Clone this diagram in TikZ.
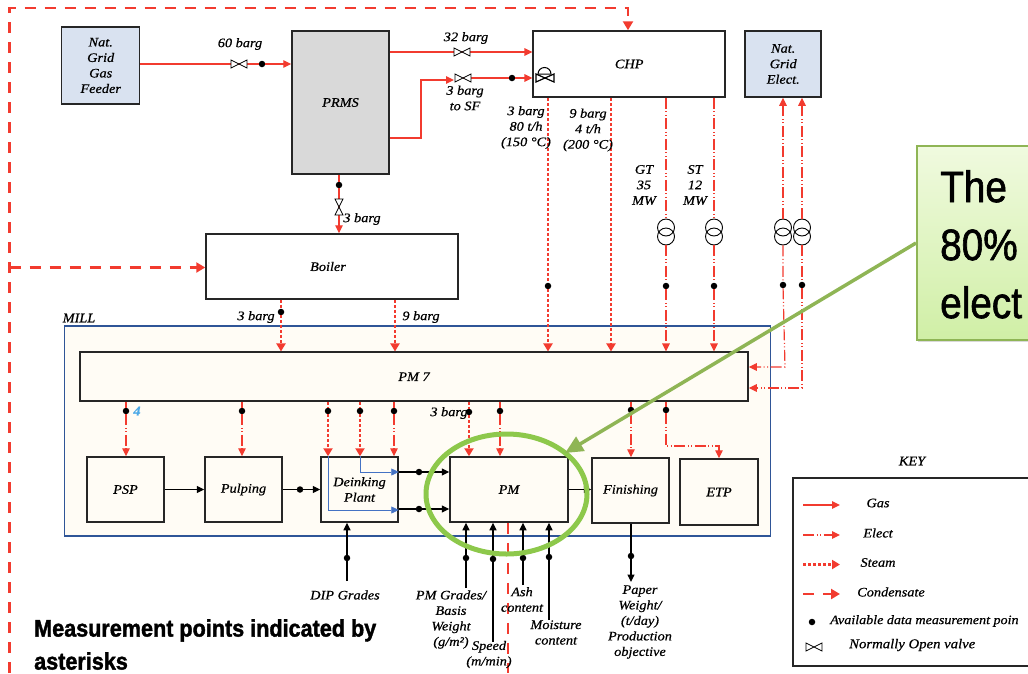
\documentclass[tikz,border=0pt]{standalone}
\usepackage{fontspec}
\setmainfont[FakeStretch=1.1,FakeBold=0.6]{Liberation Serif}
\newfontfamily\calloutfont[FakeStretch=0.88,FakeBold=1.4]{Liberation Sans}
\newfontfamily\notefont[FakeStretch=0.9,BoldFeatures={FakeBold=1.6}]{Liberation Sans}
\usetikzlibrary{arrows.meta, shapes.geometric, shadows}
\definecolor{linered}{HTML}{F23B2F}
\definecolor{gridblue}{HTML}{D9E2F0}
\definecolor{millcream}{HTML}{FFFCF5}
\definecolor{millblue}{HTML}{2F5597}
\definecolor{leafgreen}{HTML}{8DC84B}
\definecolor{pointgreen}{HTML}{8FB555}
\definecolor{palegreen}{HTML}{F0FADF}
\definecolor{softgreen}{HTML}{D0EFA6}
\definecolor{fourblue}{HTML}{4BA9E8}
\definecolor{flowblue}{HTML}{4472C4}
\newcommand{\labelfont}{\fontsize{13}{15.5}\selectfont\itshape}

\begin{document}
\begin{tikzpicture}[
    x=1pt, y=-1pt,
    % Estilos de nodos
    unit box/.style={rectangle, draw=black!85, line width=1.5pt, inner sep=0pt, align=center, font=\labelfont},
    feed box/.style={unit box, fill=gridblue},
    mill box/.style={unit box, fill=millcream},
    meas point/.style={circle, fill=black, inner sep=0pt, minimum size=6.5pt},
    coil/.style={circle, draw=black, line width=0.9pt, fill=none, inner sep=0pt, minimum size=17pt},
    flow label/.style={font=\labelfont, align=center, inner sep=0pt},
    % Estilos de aristas
    gas edge/.style={linered, line width=1.3pt, -{Triangle[length=8pt, width=7.5pt]}},
    elect edge/.style={linered, line width=1.2pt, dash pattern=on 11pt off 2.5pt on 1pt off 2.5pt on 1pt off 2.5pt, -{Triangle[length=8pt, width=7.5pt]}},
    elect plain/.style={linered, line width=1.2pt, dash pattern=on 11pt off 2.5pt on 1pt off 2.5pt on 1pt off 2.5pt},
    steam edge/.style={linered, line width=2.7pt, dash pattern=on 3pt off 2pt, -{Triangle[length=8pt, width=9pt]}},
    cond edge/.style={linered, line width=2.3pt, dash pattern=on 11pt off 9pt, -{Triangle[length=9pt, width=10pt]}},
    cond plain/.style={linered, line width=2.3pt, dash pattern=on 11pt off 9pt},
    black edge/.style={black, line width=1.1pt, -{Triangle[length=7.5pt, width=7pt]}},
    blue edge/.style={flowblue, line width=0.7pt, -{Triangle[length=7.5pt, width=7pt]}},
    % Simbolos
    valve/.pic={\draw[black, line width=0.8pt, fill=white] (-8,-4) -- (8,4) -- (8,-4) -- (-8,4) -- cycle;},
    control valve/.pic={
        \draw[black, line width=1.2pt, fill=white] (-9,-4) -- (9,4) -- (9,-4) -- (-9,4) -- cycle;
        \draw[black, line width=1pt] (-7,-4) arc[start angle=180, end angle=0, radius=6.5pt] -- cycle;
    }
]
    \clip (0,0) rectangle (1028,673);

    % =========================================================================
    % 1. Cajas
    % =========================================================================
    \node[rectangle, draw=millblue, line width=1.5pt, fill=millcream, minimum width=706pt, minimum height=210pt] (mill) at (417.7,431) {};
    \node[flow label] (milllabel) at (79,318) {MILL};

    \node[feed box, minimum width=78pt, minimum height=77pt] (feeder) at (100.7,65.5) {Nat.\\Grid\\Gas\\Feeder};
    \node[unit box, fill=black!15, minimum width=97pt, minimum height=143pt] (prms) at (340.5,102.5) {PRMS};
    \node[unit box, fill=white, minimum width=252pt, minimum height=65pt] (boiler) at (332,266.5) {Boiler\kern8pt};
    \node[unit box, fill=white, minimum width=192pt, minimum height=66pt] (chp) at (629.2,64) {CHP};
    \node[feed box, minimum width=76pt, minimum height=66pt] (grid) at (783.2,64) {Nat.\\Grid\\Elect.};

    \node[mill box, minimum width=668pt, minimum height=49pt] (pm7) at (414,376.7) {PM 7};
    \node[mill box, minimum width=77pt, minimum height=65pt] (psp) at (125.5,489.5) {PSP};
    \node[mill box, minimum width=77pt, minimum height=65pt] (pulping) at (243.5,489.5) {Pulping};
    \node[mill box, minimum width=77pt, minimum height=65pt] (deink) at (359.5,489.5) {Deinking\\Plant};
    \node[mill box, minimum width=118pt, minimum height=65pt] (pm) at (509,489.5) {PM};
    \node[mill box, minimum width=77pt, minimum height=65pt] (finishing) at (630.5,490.5) {Finishing};
    \node[mill box, minimum width=78pt, minimum height=66pt] (etp) at (719,492) {ETP};

    % =========================================================================
    % 2. Puntos de medida, valvulas y transformadores
    % =========================================================================
    \foreach \n/\px/\py in {
        m60/262/64, msf/512/78, mprms/339/185, mboilera/281/312,
        mchpa/548/286, mgt/666/286, mst/714/286, mna/783/285, mnb/802/285,
        mpsp/126/411, mpulp/242/411, mdia/328/411, mdib/360/411, mdic/394/411,
        mpma/469/412, mpmb/500/411, mfin/631/410, metp/666/410,
        mpulpout/300/489.5, mdeinka/419/472, mdeinkb/419/509,
        mdip/347/558, mgrade/466/558, mspeed/493/559, mash/523/558, mmoist/549/557, mpaper/631/556} {
        \node[meas point] (\n) at (\px,\py) {};
    }

    \foreach \t/\px in {tg/666, ts/714, tna/783, tnb/802} {
        \node[coil] (\t a) at (\px,227.5) {};
        \node[coil] (\t b) at (\px,236.5) {};
    }

    \coordinate (v60) at (239,64);
    \coordinate (v32) at (462,52);
    \coordinate (vsf) at (463,78);
    \coordinate (vboiler) at (339,207);
    \coordinate (vchp) at (545,78);

    % =========================================================================
    % 3. Gas
    % =========================================================================
    \draw[gas edge] (feeder.east |- v60) -- (m60) -- (prms.west |- m60);
    \draw[gas edge] (prms.east |- v32) -- (chp.west |- v32);
    \coordinate (gsfa) at (421,138);
    \coordinate (gsfb) at (421,80);
    \coordinate (gsfc) at (454,80);
    \draw[gas edge] (prms.east |- gsfa) -- (gsfa) -- (gsfb) -- (gsfc);
    \draw[gas edge] (vsf) -- (msf) -- (chp.west |- msf);
    \draw[gas edge] (prms.south -| mprms) -- (mprms) -- (boiler.north -| mprms);

    % =========================================================================
    % 4. Condensado
    % =========================================================================
    \coordinate (cbottom) at (9.5,673);
    \coordinate (ctop) at (9.5,8);
    \coordinate (cright) at (628,8);
    \coordinate (cboiler) at (9.5,267.5);
    \coordinate (cpm) at (508,673);
    \draw[cond edge] (cbottom) -- (ctop) -- (cright) -- (chp.north -| cright);
    \draw[cond edge] (cboiler) -- (boiler.west |- cboiler);
    \draw[cond plain] (pm.south -| cpm) -- (cpm);

    % =========================================================================
    % 5. Vapor
    % =========================================================================
    \coordinate (sninebar) at (611,286);
    \coordinate (sboilerb) at (395,312);
    \draw[steam edge] (chp.south -| mchpa) -- (mchpa) -- (pm7.north -| mchpa);
    \draw[steam edge] (chp.south -| sninebar) -- (pm7.north -| sninebar);
    \draw[steam edge] (boiler.south -| mboilera) -- (mboilera) -- (pm7.north -| mboilera);
    \draw[steam edge] (boiler.south -| sboilerb) -- (pm7.north -| sboilerb);
    \draw[steam edge] (pm7.south -| mdia) -- (mdia) -- (deink.north -| mdia);
    \draw[steam edge] (pm7.south -| mdib) -- (mdib) -- (deink.north -| mdib);
    \draw[steam edge] (pm7.south -| mpma) -- (mpma) -- (pm.north -| mpma);

    % =========================================================================
    % 6. Electricidad
    % =========================================================================
    \draw[elect plain] (chp.south -| mgt) -- (tga);
    \draw[elect plain] (chp.south -| mst) -- (tsa);
    \draw[elect edge] (tgb) -- (mgt) -- (pm7.north -| mgt);
    \draw[elect edge] (tsb) -- (mst) -- (pm7.north -| mst);
    \draw[elect edge] (tnaa) -- (grid.south -| tnaa);
    \draw[elect edge] (tnba) -- (grid.south -| tnba);
    \coordinate (ena) at (785,367);
    \coordinate (enb) at (802,388);
    \draw[elect edge] (tnab) -- (mna) -- (ena) -- (pm7.east |- ena);
    \draw[elect edge] (tnbb) -- (mnb) -- (enb) -- (pm7.east |- enb);
    \draw[elect edge] (pm7.south -| mpsp) -- (mpsp) -- (psp.north -| mpsp);
    \draw[elect edge] (pm7.south -| mpulp) -- (mpulp) -- (pulping.north -| mpulp);
    \draw[elect edge] (pm7.south -| mdic) -- (mdic) -- (deink.north -| mdic);
    \draw[elect edge] (pm7.south -| mpmb) -- (mpmb) -- (pm.north -| mpmb);
    \draw[elect edge] (pm7.south -| mfin) -- (mfin) -- (finishing.north -| mfin);
    \coordinate (eetpa) at (666,446);
    \coordinate (eetpb) at (719,446);
    \draw[elect edge] (pm7.south -| metp) -- (metp) -- (eetpa) -- (eetpb) -- (etp.north);

    % =========================================================================
    % 7. Proceso
    % =========================================================================
    \draw[black edge] (psp.east) -- (pulping.west);
    \draw[black edge] (pulping.east) -- (mpulpout) -- (deink.west);
    \draw[black edge] (deink.east |- mdeinka) -- (mdeinka) -- (pm.west |- mdeinka);
    \draw[black edge] (deink.east |- mdeinkb) -- (mdeinkb) -- (pm.west |- mdeinkb);
    \draw[black edge] (pm.east) -- (finishing.west |- pm.east);

    \coordinate (bdia) at (328,510);
    \coordinate (bdib) at (360,472);
    \draw[blue edge] (deink.north -| bdia) -- (bdia) -- (deink.east |- bdia);
    \draw[blue edge] (deink.north -| bdib) -- (bdib) -- (deink.east |- bdib);

    \coordinate (edip) at (347,581);
    \coordinate (egrade) at (466,588);
    \coordinate (espeed) at (493,642);
    \coordinate (eash) at (523,585);
    \coordinate (emoist) at (549,620);
    \coordinate (epaper) at (631,582);
    \draw[black edge] (edip) -- (mdip) -- (deink.south -| mdip);
    \draw[black edge] (egrade) -- (mgrade) -- (pm.south -| mgrade);
    \draw[black edge] (espeed) -- (mspeed) -- (pm.south -| mspeed);
    \draw[black edge] (eash) -- (mash) -- (pm.south -| mash);
    \draw[black edge] (emoist) -- (mmoist) -- (pm.south -| mmoist);
    \draw[black edge] (finishing.south -| mpaper) -- (mpaper) -- (epaper);

    % Valvulas por encima de las lineas
    \pic at (v60) {valve};
    \pic at (v32) {valve};
    \pic at (vsf) {valve};
    \pic[rotate=90] at (vboiler) {valve};
    \pic at (vchp) {control valve};

    % =========================================================================
    % 8. Etiquetas
    % =========================================================================
    \node[flow label] (l60) at (240,44) {60 barg};
    \node[flow label] (l32) at (466,38) {32 barg};
    \node[flow label] (lsf) at (465,98) {3 barg\\to SF};
    \node[flow label] (lprms) at (362,219) {3 barg};
    \node[flow label] (lchpa) at (526,127.5) {3 barg\\80 t/h\\(150 °C)};
    \node[flow label] (lchpb) at (588,130) {9 barg\\4 t/h\\(200 °C)};
    \node[flow label] (lgt) at (644,185) {GT\\35\\MW};
    \node[flow label] (lst) at (695,185) {ST\\12\\MW};
    \node[flow label] (lboa) at (256,317) {3 barg};
    \node[flow label] (lbob) at (421,317) {9 barg};
    \node[flow label, text=fourblue, font=\labelfont\bfseries] (lfour) at (137,411) {4};
    \node[flow label] (lpma) at (449,413) {3 barg};
    \node[flow label] (ldip) at (345,595) {DIP Grades};
    \node[flow label] (lgrade) at (451,619.5) {PM Grades/\\Basis\\Weight\\(g/m²)};
    \node[flow label] (lspeed) at (489,654.5) {Speed\\(m/min)};
    \node[flow label] (lash) at (522,599.5) {Ash\\content};
    \node[flow label] (lmoist) at (556,632.5) {Moisture\\content};
    \node[flow label] (lpaper) at (640,622) {Paper\\Weight/\\(t/day)\\Production\\objective};

    \node[anchor=west, inner sep=0pt, align=left, font={\notefont\bfseries\fontsize{24}{33}\selectfont}] (lasterisk) at (34,644.5) {Measurement points indicated by\\asterisks};

    % =========================================================================
    % 9. Leyenda
    % =========================================================================
    \node[flow label] (lkey) at (912,461) {KEY};
    \coordinate (kbl) at (793,666);
    \coordinate (ktl) at (793,478);
    \coordinate (kbr) at (1040,666);
    \coordinate (ktr) at (1040,478);
    \draw[black!85, line width=1.5pt] (ktr) -- (ktl) -- (kbl) -- (kbr);

    \foreach \k/\ky/\s/\kt/\kx in {a/505/gas edge/Gas/878, b/535/elect edge/Elect/878, c/564.5/steam edge/Steam/878, d/594/cond edge/Condensate/891} {
        \coordinate (k\k l) at (803,\ky);
        \coordinate (k\k r) at (840,\ky);
        \draw[\s] (k\k l) -- (k\k r);
        \node[flow label] (kt\k) at (\kx,\ky-2) {\kt};
    }
    \node[meas point] (kmeas) at (812,622) {};
    \node[flow label, anchor=west, font=\fontsize{12.8}{15.5}\selectfont\itshape] (ktmeas) at (830,621) {Available data measurement poin};
    \coordinate (kvalve) at (814,647);
    \pic at (kvalve) {valve};
    \node[flow label, anchor=west, font=\fontsize{13.4}{15.5}\selectfont\itshape] (ktvalve) at (849,645) {Normally Open valve};

    % =========================================================================
    % 10. Llamada verde
    % =========================================================================
    \node[rectangle, draw=pointgreen, line width=1.5pt, top color=palegreen, bottom color=softgreen,
          drop shadow={shadow xshift=1.5pt, shadow yshift=-2pt, opacity=0.3},
          minimum width=150pt, minimum height=194pt, anchor=north west, inner sep=0pt] (callout) at (916,145) {};
    \node[anchor=north west, inner sep=0pt, align=left, font={\calloutfont\fontsize{44}{58}\selectfont}] (callouttext) at (940,170) {The\\80\%\\elect};
    \node[ellipse, draw=leafgreen, line width=5pt, minimum width=161pt, minimum height=120pt, inner sep=0pt] (ring) at (506.5,494) {};
    \coordinate (ringtip) at (565,453);
    \draw[pointgreen, line width=3.5pt, -{Triangle[length=18pt, width=16pt]}] (callout.west |- 0,243) -- (ringtip);
\end{tikzpicture}
\end{document}
